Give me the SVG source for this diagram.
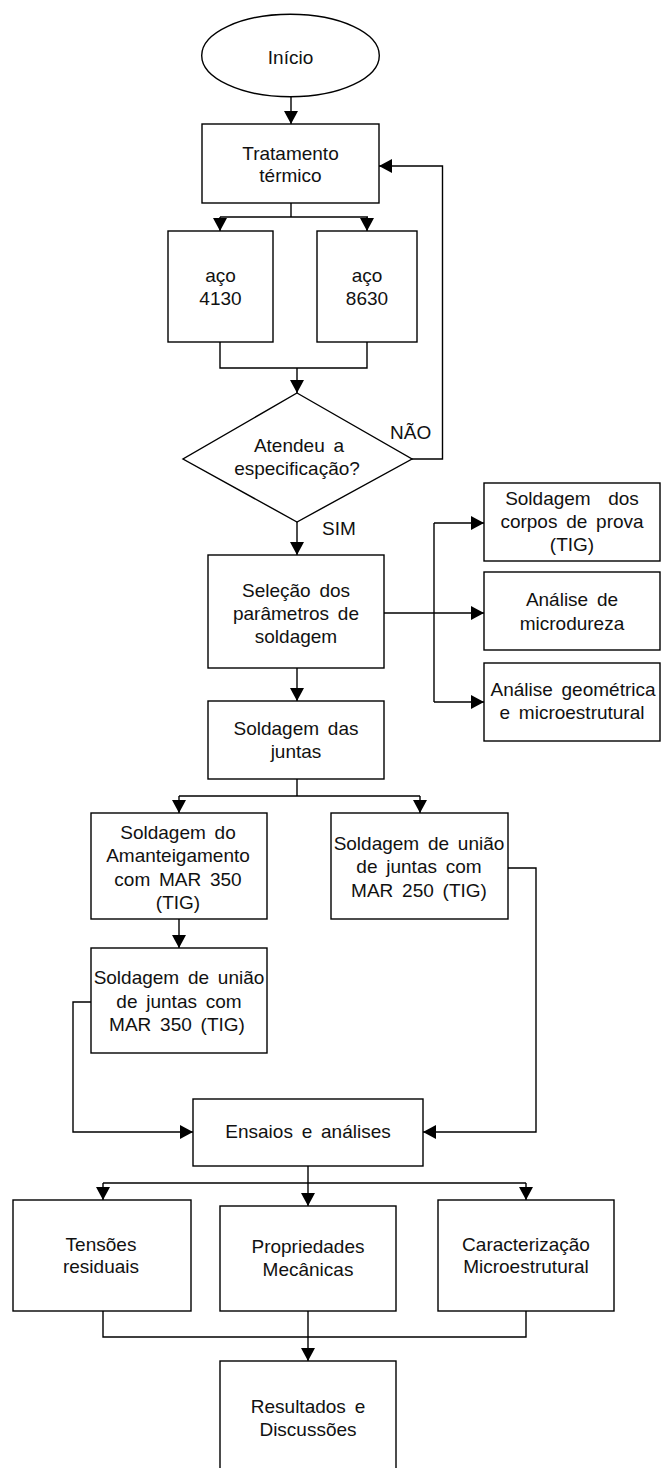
<svg xmlns="http://www.w3.org/2000/svg" width="661" height="1468" viewBox="0 0 661 1468">
<style>
.n{fill:#fff;stroke:#000;stroke-width:1.4}
.c{fill:none;stroke:#000;stroke-width:1.4}
text{font-family:"Liberation Sans",Arial,sans-serif;font-size:19px;fill:#111;text-anchor:middle;word-spacing:3.5px}
.l{text-anchor:start}
</style>
<defs>
<marker id="a" markerUnits="userSpaceOnUse" markerWidth="13" markerHeight="14" refX="13" refY="7" orient="auto">
<path d="M0,0 L13,7 L0,14 z" fill="#000"/>
</marker>
</defs>
<rect width="661" height="1468" fill="#fff"/>
<g id="connectors">
<path class="c" d="M291,97 V124" marker-end="url(#a)"/>
<path class="c" d="M291,203 V217"/>
<path class="c" d="M220,217 H368"/>
<path class="c" d="M220,217 V231" marker-end="url(#a)"/>
<path class="c" d="M367,217 V231" marker-end="url(#a)"/>
<path class="c" d="M220,342 V368 H367 V342"/>
<path class="c" d="M297,368 V393" marker-end="url(#a)"/>
<path class="c" d="M412,459 H442.5 V166 H379" marker-end="url(#a)"/>
<path class="c" d="M297,522 V555" marker-end="url(#a)"/>
<path class="c" d="M384,613 H484" marker-end="url(#a)"/>
<path class="c" d="M434,702 V523"/>
<path class="c" d="M434,523 H484" marker-end="url(#a)"/>
<path class="c" d="M434,702 H484" marker-end="url(#a)"/>
<path class="c" d="M297,668 V701" marker-end="url(#a)"/>
<path class="c" d="M297,779 V796"/>
<path class="c" d="M179,796 H420"/>
<path class="c" d="M179,796 V813" marker-end="url(#a)"/>
<path class="c" d="M420,796 V813" marker-end="url(#a)"/>
<path class="c" d="M179,919 V948" marker-end="url(#a)"/>
<path class="c" d="M91,1002 H73 V1132 H193" marker-end="url(#a)"/>
<path class="c" d="M508,868 H536 V1132 H423" marker-end="url(#a)"/>
<path class="c" d="M308,1166 V1206" marker-end="url(#a)"/>
<path class="c" d="M103,1183 H526"/>
<path class="c" d="M103,1183 V1200" marker-end="url(#a)"/>
<path class="c" d="M526,1183 V1200" marker-end="url(#a)"/>
<path class="c" d="M103,1311 V1337 H526 V1311"/>
<path class="c" d="M308,1311 V1361" marker-end="url(#a)"/>
</g>
<g id="inicio">
<ellipse class="n" cx="290.5" cy="55.5" rx="88.8" ry="41.3"/>
<text x="290.5" y="64">Início</text>
</g>
<g id="tratamento">
<rect class="n" x="202" y="124" width="177" height="79"/>
<text x="290.5" y="160">Tratamento</text>
<text x="290.5" y="182">térmico</text>
</g>
<g id="aco4130">
<rect class="n" x="168" y="231" width="105" height="111"/>
<text x="220.5" y="282">aço</text>
<text x="220.5" y="305">4130</text>
</g>
<g id="aco8630">
<rect class="n" x="317" y="231" width="100" height="111"/>
<text x="367" y="282">aço</text>
<text x="367" y="305">8630</text>
</g>
<g id="decisao">
<polygon class="n" points="297,393 412,459 297,522 183,459"/>
<text x="299" y="452">Atendeu a</text>
<text x="297" y="475">especificação?</text>
<text class="l" x="390" y="439">NÃO</text>
<text class="l" x="322" y="535">SIM</text>
</g>
<g id="selecao">
<rect class="n" x="208" y="555" width="176" height="113"/>
<text x="296" y="597">Seleção dos</text>
<text x="296" y="620">parâmetros de</text>
<text x="296" y="643">soldagem</text>
</g>
<g id="soldagem-corpos">
<rect class="n" x="484" y="483" width="176" height="78"/>
<text x="572" y="505" xml:space="preserve">Soldagem  dos</text>
<text x="572" y="528">corpos de prova</text>
<text x="572" y="551">(TIG)</text>
</g>
<g id="microdureza">
<rect class="n" x="484" y="572" width="176" height="78"/>
<text x="572" y="606">Análise de</text>
<text x="572" y="630">microdureza</text>
</g>
<g id="geometrica">
<rect class="n" x="484" y="663" width="176" height="78"/>
<text x="573" y="696">Análise geométrica</text>
<text x="572" y="719">e microestrutural</text>
</g>
<g id="soldagem-juntas">
<rect class="n" x="208" y="701" width="176" height="78"/>
<text x="296" y="735">Soldagem das</text>
<text x="296" y="758">juntas</text>
</g>
<g id="amanteigamento">
<rect class="n" x="91" y="813" width="176" height="106"/>
<text x="178" y="839">Soldagem do</text>
<text x="178" y="862">Amanteigamento</text>
<text x="178" y="886">com MAR 350</text>
<text x="178" y="909">(TIG)</text>
</g>
<g id="uniao-mar250">
<rect class="n" x="331" y="813" width="177" height="106"/>
<text x="419" y="850">Soldagem de união</text>
<text x="419" y="873">de juntas com</text>
<text x="419" y="897">MAR 250 (TIG)</text>
</g>
<g id="uniao-mar350">
<rect class="n" x="91" y="948" width="176" height="105"/>
<text x="179" y="984">Soldagem de união</text>
<text x="179" y="1008">de juntas com</text>
<text x="177" y="1031">MAR 350 (TIG)</text>
</g>
<g id="ensaios">
<rect class="n" x="193" y="1099" width="230" height="67"/>
<text x="308" y="1138">Ensaios e análises</text>
</g>
<g id="tensoes">
<rect class="n" x="13" y="1200" width="178" height="111"/>
<text x="101" y="1251">Tensões</text>
<text x="101" y="1273">residuais</text>
</g>
<g id="propriedades">
<rect class="n" x="220" y="1206" width="176" height="105"/>
<text x="308" y="1253">Propriedades</text>
<text x="308" y="1276">Mecânicas</text>
</g>
<g id="caracterizacao">
<rect class="n" x="438" y="1200" width="176" height="111"/>
<text x="526" y="1251">Caracterização</text>
<text x="526" y="1273">Microestrutural</text>
</g>
<g id="resultados">
<rect class="n" x="220" y="1361" width="176" height="120"/>
<text x="308" y="1413">Resultados e</text>
<text x="308" y="1436">Discussões</text>
</g>
</svg>
